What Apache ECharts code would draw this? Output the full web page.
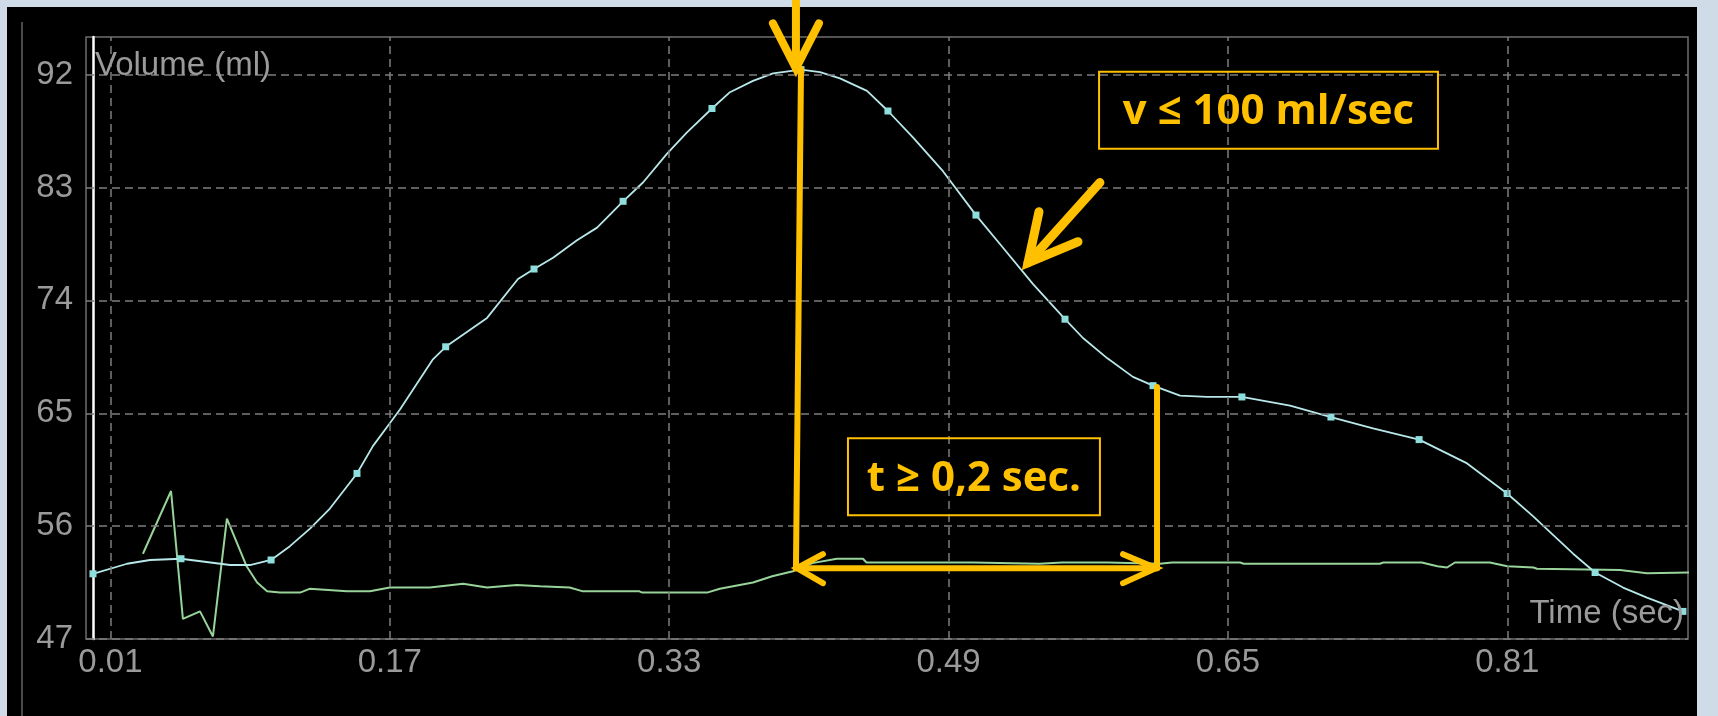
<!DOCTYPE html>
<html><head><meta charset="utf-8">
<script src="https://cdn.jsdelivr.net/npm/echarts@6/dist/echarts.min.js"></script>
<style>
html,body{margin:0;padding:0;width:1718px;height:716px;overflow:hidden;background:#cfdce8;}
#panel{position:absolute;left:7px;top:7px;width:1690px;height:709px;background:#000;}
#chart{position:absolute;left:0;top:0;width:1718px;height:716px;}
</style></head><body>
<div id="panel"></div><div id="chart"></div>
<script>
// ---- tick labels ----
const xTickLabels = [0.01, 0.17, 0.33, 0.49, 0.65, 0.81];
const yTickLabels = [47, 56, 65, 74, 83, 92];

// ---- Volume curve (cyan) ----
const volumeTime = [0, 0.0195, 0.0327, 0.0504, 0.0785, 0.0899, 0.102, 0.1128, 0.1243, 0.1357,
  0.1512, 0.1604, 0.170, 0.1758, 0.1947, 0.202, 0.2257, 0.2434, 0.2526, 0.2635,
  0.2772, 0.2887, 0.3036, 0.315, 0.3288, 0.3402, 0.3545, 0.3648, 0.378, 0.3895,
  0.4055, 0.4164, 0.4278, 0.4433, 0.4553, 0.4696, 0.4868, 0.5057, 0.5212, 0.5384,
  0.5567, 0.567, 0.5808, 0.5956, 0.6071, 0.6226, 0.638, 0.658, 0.6856, 0.709,
  0.7331, 0.7595, 0.787, 0.8099, 0.8247, 0.8385, 0.8477, 0.8603, 0.8763, 0.89, 0.9106];
const volumeValue = [52.2, 53.0, 53.3, 53.4, 52.9, 52.9, 53.3, 54.4, 55.8, 57.4,
  60.2, 62.4, 64.2, 65.3, 69.3, 70.3, 72.6, 75.7, 76.5, 77.4,
  78.8, 79.8, 81.9, 83.4, 85.7, 87.4, 89.3, 90.6, 91.5, 92.1,
  92.4, 92.2, 91.7, 90.7, 89.1, 87.0, 84.3, 80.8, 78.2, 75.3,
  72.5, 71.0, 69.4, 67.9, 67.2, 66.4, 66.3, 66.3, 65.6, 64.7,
  63.8, 62.9, 61.0, 58.6, 56.8, 55.0, 53.8, 52.3, 51.1, 50.3, 49.2];
// indices of the sampled points that carry a square marker
const markerIdx = [0, 3, 6, 10, 15, 18, 22, 26, 30, 34, 37, 40, 44, 47, 49, 51, 53, 57, 60];

// ---- Flow curve (green) ----
const flowTime = [0.0286, 0.0447, 0.0515, 0.0613, 0.0687, 0.0767, 0.088, 0.094, 0.0997, 0.107,
  0.1186, 0.124, 0.1455, 0.1586, 0.170, 0.193, 0.212, 0.2257, 0.2428, 0.256,
  0.273, 0.2806, 0.313, 0.3145, 0.3517, 0.359, 0.378, 0.389, 0.4009, 0.412,
  0.426, 0.441, 0.443, 0.504, 0.542, 0.555, 0.581, 0.611, 0.618, 0.657,
  0.659, 0.737, 0.739, 0.761, 0.770, 0.7755, 0.780, 0.800, 0.810, 0.825,
  0.827, 0.8746, 0.890, 0.916];
const flowValue = [53.8, 58.8, 48.6, 49.2, 47.2, 56.6, 52.8, 51.5, 50.8, 50.7,
  50.7, 51.0, 50.8, 50.8, 51.1, 51.1, 51.4, 51.1, 51.3, 51.2,
  51.1, 50.8, 50.8, 50.7, 50.7, 51.0, 51.5, 52.0, 52.4, 53.05,
  53.4, 53.4, 53.1, 53.1, 53.0, 53.1, 53.1, 53.0, 53.1, 53.1,
  53.0, 53.0, 53.1, 53.1, 52.8, 52.7, 53.1, 53.1, 52.8, 52.7,
  52.6, 52.5, 52.25, 52.3];

// ---- annotation anchors (data units: [time, volume]) ----
const peakPoint = [0.4055, 92.4];
const bracketStart = [0.4026, 52.65];
const bracketEnd = [0.6094, 52.65];
const bracketRightTop = [0.6094, 67.1];
const peakArrowTop = [0.4026, 98.3];
const peakArrowTip = [0.4026, 92.5];
const slopeArrowStart = [0.5767, 83.4];
const slopeArrowTip = [0.5355, 77.0];
const tBoxTL = [0.4324, 63.0], tBoxBR = [0.5767, 56.87];
const vBoxTL = [0.5762, 92.22], vBoxBR = [0.7703, 86.09];
const tLabel = 't \u2265 0,2 sec.';
const vLabel = 'v \u2264 100 ml/sec';

const ORANGE = '#FFC000';
const LABEL_GREY = '#9a9a9a';

const chart = echarts.init(document.getElementById('chart'), null, {renderer: 'canvas'});

const volumeData = volumeTime.map((t, i) => ({
  value: [t, volumeValue[i]],
  symbol: markerIdx.indexOf(i) >= 0 ? 'rect' : 'none'
}));
const flowData = flowTime.map((t, i) => [t, flowValue[i]]);

chart.setOption({
  backgroundColor: 'transparent',
  animation: false,
  grid: {left: 86, right: 30, top: 37, bottom: 77, show: true,
    borderColor: '#6e6e6e', borderWidth: 1.5, backgroundColor: 'transparent'},
  xAxis: {
    type: 'value', min: -0.004, max: 0.9135,
    axisLine: {show: false},
    axisTick: {show: false, customValues: xTickLabels},
    splitLine: {show: false},
    axisLabel: {customValues: xTickLabels, formatter: v => v.toFixed(2),
      color: LABEL_GREY, fontFamily: 'Liberation Sans', fontSize: 33, margin: 7}
  },
  yAxis: {
    type: 'value', min: 47, max: 95,
    axisLine: {show: true, onZero: true, lineStyle: {color: '#ffffff', width: 2.5}},
    axisTick: {show: false, customValues: yTickLabels},
    splitLine: {show: false},
    axisLabel: {customValues: yTickLabels, color: LABEL_GREY,
      fontFamily: 'Liberation Sans', fontSize: 33, margin: 13}
  },
  series: [
    {type: 'line', name: 'gridlines', data: [], silent: true, z: 1,
      markLine: {silent: true, symbol: ['none', 'none'], label: {show: false},
        animation: false,
        lineStyle: {color: '#7d7d7d', type: [8, 5], width: 1.5},
        emphasis: {disabled: true},
        data: xTickLabels.map(v => ({xAxis: v})).concat(yTickLabels.map(v => ({yAxis: v})))}},
    {type: 'line', name: 'Flow', data: flowData, showSymbol: false, z: 3,
      lineStyle: {color: '#98d49a', width: 2}},
    {type: 'line', name: 'Volume', data: volumeData, showSymbol: true, showAllSymbol: true,
      symbolSize: 7, z: 4,
      itemStyle: {color: '#8fdede'}, lineStyle: {color: '#b8e8ea', width: 1.8}}
  ]
});

function P(pt) { return chart.convertToPixel({gridIndex: 0}, pt); }
function line(points, w, z) {
  return {type: 'polyline', z: z || 100, silent: true,
    shape: {points: points},
    style: {stroke: ORANGE, lineWidth: w, fill: null, lineCap: 'round', lineJoin: 'miter'}};
}
function box(tl, br, text) {
  const a = P(tl), b = P(br);
  return [
    {type: 'rect', z: 100, silent: true,
      shape: {x: a[0], y: a[1], width: b[0] - a[0], height: b[1] - a[1]},
      style: {stroke: ORANGE, lineWidth: 2, fill: null}},
    {type: 'text', z: 101, silent: true,
      x: (a[0] + b[0]) / 2, y: (a[1] + b[1]) / 2 + 2,
      style: {text: text, fill: ORANGE, font: 'bold 42px "Open Sans"',
        align: 'center', verticalAlign: 'middle'}}
  ];
}

const tipTop = P(peakArrowTip);
const s0 = P(bracketStart), s1 = P(bracketEnd);
const dTip = P(slopeArrowTip);

const graphics = [
  {type: 'line', z: 50, silent: true, shape: {x1: 22, y1: 22, x2: 22, y2: 716},
    style: {stroke: '#4a4a4a', lineWidth: 2}},
  {type: 'text', z: 50, silent: true, x: 95, y: 66,
    style: {text: 'Volume (ml)', fill: LABEL_GREY, font: '33px "Liberation Sans"',
      align: 'left', verticalAlign: 'middle'}},
  {type: 'text', z: 50, silent: true, x: 1684, y: 614,
    style: {text: 'Time (sec)', fill: LABEL_GREY, font: '33px "Liberation Sans"',
      align: 'right', verticalAlign: 'middle'}},
  // arrow pointing down at the peak
  line([P(peakArrowTop), tipTop], 8),
  line([[tipTop[0] - 23, tipTop[1] - 45], tipTop, [tipTop[0] + 23, tipTop[1] - 45]], 8),
  // bracket: peak down, across to end of plateau
  line([P(peakPoint), s0, s1], 6),
  line([P(bracketRightTop), s1], 6),
  line([[s0[0] + 27, s0[1] - 14], [s0[0] + 1, s0[1]], [s0[0] + 27, s0[1] + 15]], 6),
  line([[s1[0] - 34, s1[1] - 14], [s1[0] - 1, s1[1]], [s1[0] - 34, s1[1] + 15]], 6),
  // diagonal arrow pointing at the descending slope
  line([P(slopeArrowStart), dTip], 9),
  line([[dTip[0] + 11, dTip[1] - 51], dTip, [dTip[0] + 50, dTip[1] - 21]], 9)
].concat(box(tBoxTL, tBoxBR, tLabel), box(vBoxTL, vBoxBR, vLabel));

chart.setOption({graphic: graphics});
</script>
</body></html>
